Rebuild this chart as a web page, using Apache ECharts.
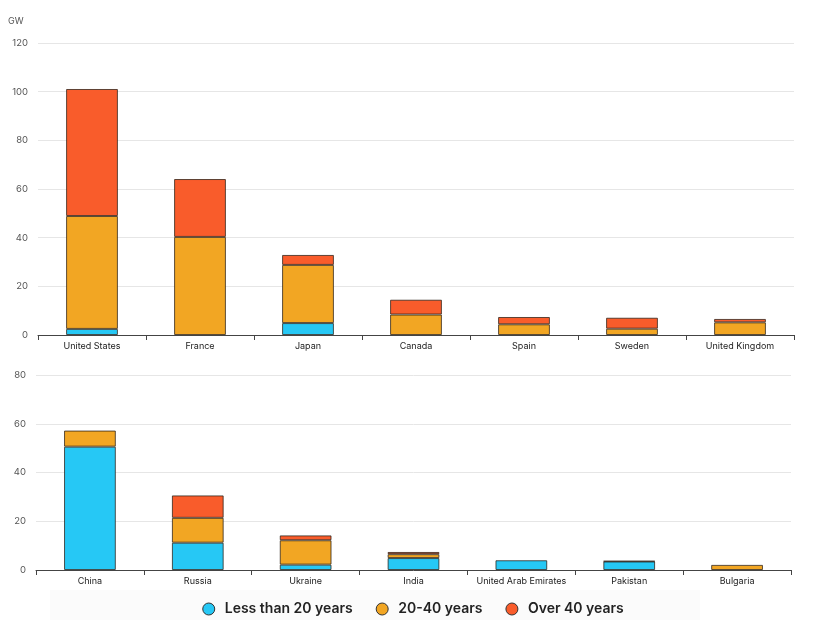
<!DOCTYPE html>
<html>
<head>
<meta charset="utf-8">
<script src="https://cdn.jsdelivr.net/npm/echarts@6/dist/echarts.min.js"></script>
<style>
html,body{margin:0;padding:0;background:#fff;}
#c{width:826px;height:620px;}
</style>
</head>
<body>
<div id="c"></div>
<script>
const topCategories = ['United States','France','Japan','Canada','Spain','Sweden','United Kingdom'];
const topLess20 = [2.5, 0, 4.9, 0, 0, 0, 0];
const top20to40 = [46.4, 40.3, 23.9, 8.4, 4.4, 2.6, 5.2];
const topOver40 = [52.2, 23.8, 4.1, 6.1, 3.0, 4.5, 1.4];

const botCategories = ['China','Russia','Ukraine','India','United Arab Emirates','Pakistan','Bulgaria'];
const botLess20 = [50.6, 11.2, 2.2, 4.9, 4.0, 3.5, 0];
const bot20to40 = [6.6, 10.2, 10.0, 1.6, 0, 0.2, 2.1];
const botOver40 = [0, 9.2, 2.0, 0.9, 0, 0, 0];

const seriesNames = ['Less than 20 years','20-40 years','Over 40 years'];
const colors = ['#26C8F5','#F2A623','#F95C2B'];

const chart = echarts.init(document.getElementById('c'));

const xAxisCommon = {
  type: 'category',
  axisLine: {lineStyle: {color: '#444', width: 1}},
  axisTick: {show: true, length: 5, lineStyle: {color: '#444'}},
  axisLabel: {color: '#222', fontSize: 9, fontFamily: 'Inter', margin: 7, interval: 0}
};
const yAxisCommon = {
  type: 'value',
  min: 0,
  interval: 20,
  axisLine: {show: false},
  axisTick: {show: false},
  axisLabel: {color: '#555', fontSize: 9.5, fontFamily: 'Inter', margin: 10},
  splitLine: {lineStyle: {color: '#e6e6e6'}}
};

function mk(name, data, xi, color) {
  return {
    name: name, type: 'bar', stack: 's' + xi, xAxisIndex: xi, yAxisIndex: xi,
    data: data.map(v => v === 0 ? null : v), barWidth: '48%',
    itemStyle: {color: color, borderColor: 'rgba(40,30,20,0.75)', borderWidth: 1},
    emphasis: {disabled: true}
  };
}

chart.setOption({
  animation: false,
  textStyle: {fontFamily: 'Inter'},
  graphic: [{
    type: 'text', left: 8, top: 17,
    style: {text: 'GW', fill: '#555', fontSize: 9, fontFamily: 'Inter'}
  }, {
    type: 'rect', shape: {x: 50, y: 590, width: 650, height: 30},
    style: {fill: '#fbfbfb'}, z: -1
  }],
  legend: {
    bottom: -1, left: 'center',
    itemWidth: 12, itemHeight: 12, itemGap: 23,
    icon: 'circle',
    itemStyle: {borderColor: '#333', borderWidth: 1},
    textStyle: {color: '#222', fontSize: 14, fontWeight: 600, fontFamily: 'Inter', padding: [0,0,0,5]},
    data: seriesNames
  },
  grid: [
    {left: 38, right: 32, top: 43, height: 292},
    {left: 36, right: 35, top: 375, height: 195}
  ],
  xAxis: [
    Object.assign({gridIndex: 0, data: topCategories}, xAxisCommon),
    Object.assign({gridIndex: 1, data: botCategories}, xAxisCommon)
  ],
  yAxis: [
    Object.assign({gridIndex: 0, max: 120}, yAxisCommon),
    Object.assign({gridIndex: 1, max: 80}, yAxisCommon)
  ],
  series: [
    mk(seriesNames[0], topLess20, 0, colors[0]),
    mk(seriesNames[1], top20to40, 0, colors[1]),
    mk(seriesNames[2], topOver40, 0, colors[2]),
    mk(seriesNames[0], botLess20, 1, colors[0]),
    mk(seriesNames[1], bot20to40, 1, colors[1]),
    mk(seriesNames[2], botOver40, 1, colors[2])
  ]
});
</script>
</body>
</html>
